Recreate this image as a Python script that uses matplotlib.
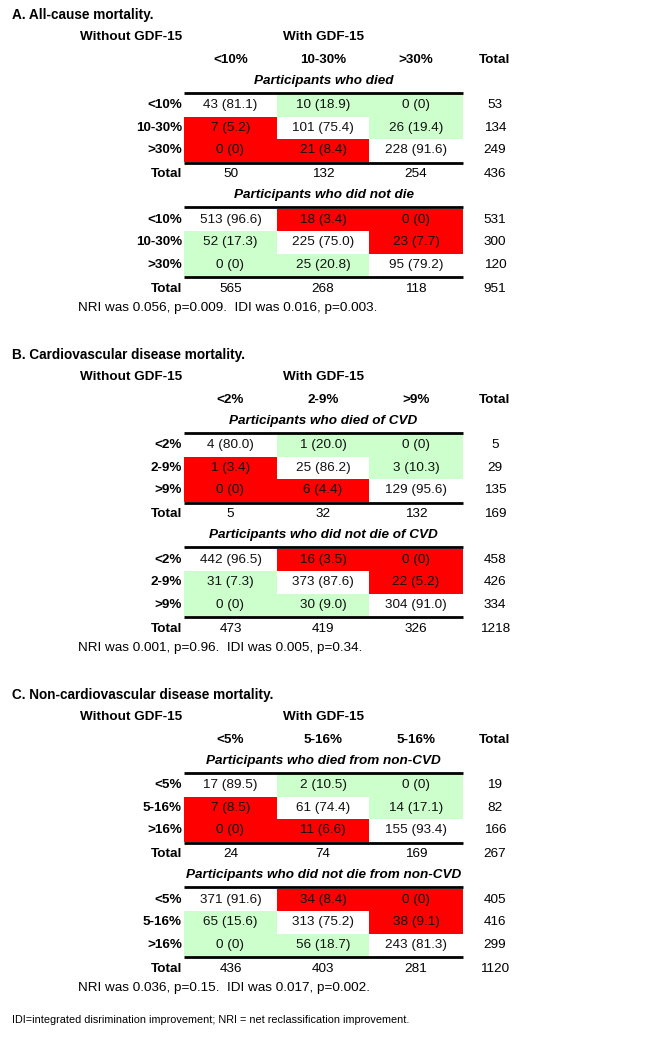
import matplotlib
matplotlib.use('Agg')
import matplotlib.pyplot as plt
from matplotlib.patches import Rectangle

plt.rcParams['font.family'] = ['Liberation Sans', 'DejaVu Sans']

# ---- data ----
titles = ['A. All-cause mortality.',
          'B. Cardiovascular disease mortality.',
          'C. Non-cardiovascular disease mortality.']
col_labels = [['<10%', '10-30%', '>30%'],
              ['<2%', '2-9%', '>9%'],
              ['<5%', '5-16%', '5-16%']]
row_labels = [['<10%', '10-30%', '>30%'],
              ['<2%', '2-9%', '>9%'],
              ['<5%', '5-16%', '>16%']]
sub_died = ['Participants who died',
            'Participants who died of CVD',
            'Participants who died from non-CVD']
sub_alive = ['Participants who did not die',
             'Participants who did not die of CVD',
             'Participants who did not die from non-CVD']

died_n = [[[43, 10, 0], [7, 101, 26], [0, 21, 228]],
          [[4, 1, 0], [1, 25, 3], [0, 6, 129]],
          [[17, 2, 0], [7, 61, 14], [0, 11, 155]]]
died_pct = [[[81.1, 18.9, 0], [5.2, 75.4, 19.4], [0, 8.4, 91.6]],
            [[80.0, 20.0, 0], [3.4, 86.2, 10.3], [0, 4.4, 95.6]],
            [[89.5, 10.5, 0], [8.5, 74.4, 17.1], [0, 6.6, 93.4]]]
alive_n = [[[513, 18, 0], [52, 225, 23], [0, 25, 95]],
           [[442, 16, 0], [31, 373, 22], [0, 30, 304]],
           [[371, 34, 0], [65, 313, 38], [0, 56, 243]]]
alive_pct = [[[96.6, 3.4, 0], [17.3, 75.0, 7.7], [0, 20.8, 79.2]],
             [[96.5, 3.5, 0], [7.3, 87.6, 5.2], [0, 9.0, 91.0]],
             [[91.6, 8.4, 0], [15.6, 75.2, 9.1], [0, 18.7, 81.3]]]

stats = ['NRI was 0.056, p=0.009.  IDI was 0.016, p=0.003.',
         'NRI was 0.001, p=0.96.  IDI was 0.005, p=0.34.',
         'NRI was 0.036, p=0.15.  IDI was 0.017, p=0.002.']
footnote = 'IDI=integrated disrimination improvement; NRI = net reclassification improvement.'

GREEN = '#ccffcc'
RED = '#ff0000'

# ---- layout (pixels) ----
fig = plt.figure(figsize=(6.59, 10.5), dpi=100)
ax = fig.add_axes([0, 0, 1, 1])
ax.set_xlim(0, 659)
ax.set_ylim(1050, 0)
ax.axis('off')

col_edges = [184, 277, 369, 463]
col_mid = [(col_edges[i] + col_edges[i + 1]) / 2 for i in range(3)]
x_center = (col_edges[0] + col_edges[-1]) / 2
x_total = 495
x_rowlab = 182
fs = 9.7
row_h = 22.5


def cell_text(n, p):
    return f'{n} (0)' if p == 0 else f'{n} ({p:.1f})'


def draw_block(top, counts, pcts, rows, died):
    # top = y of the thick rule above the 3x3 block
    ax.plot([col_edges[0], col_edges[-1]], [top, top], color='black', lw=2.0,
            solid_capstyle='butt')
    for i in range(3):
        y0 = top + 1.5 + i * row_h
        yc = y0 + row_h / 2
        for j in range(3):
            if i == j:
                fc = 'white'
            elif (j > i) == died:
                fc = GREEN
            else:
                fc = RED
            ax.add_patch(Rectangle((col_edges[j], y0), col_edges[j + 1] - col_edges[j],
                                   row_h, facecolor=fc, edgecolor='none'))
            ax.text(col_mid[j], yc, cell_text(counts[i][j], pcts[i][j]),
                    ha='center', va='center', fontsize=fs, color='#111111')
        ax.text(x_rowlab, yc, rows[i], ha='right', va='center', fontsize=fs,
                fontweight='bold')
        ax.text(x_total, yc, str(sum(counts[i])), ha='center', va='center', fontsize=fs)
    bot = top + 1.5 + 3 * row_h + 1
    ax.plot([col_edges[0], col_edges[-1]], [bot, bot], color='black', lw=2.0,
            solid_capstyle='butt')
    yt = bot + 11.5
    ax.text(x_rowlab, yt, 'Total', ha='right', va='center', fontsize=fs, fontweight='bold')
    for j in range(3):
        ax.text(col_mid[j], yt, str(sum(counts[i][j] for i in range(3))),
                ha='center', va='center', fontsize=fs)
    ax.text(x_total, yt, str(sum(sum(r) for r in counts)), ha='center', va='center',
            fontsize=fs)


for k in range(3):
    o = k * 340
    ax.text(12, o + 15, titles[k], ha='left', va='center', fontsize=fs + 0.1,
            fontweight='bold')
    ax.text(x_rowlab, o + 37, 'Without GDF-15', ha='right', va='center', fontsize=fs,
            fontweight='bold')
    ax.text(x_center, o + 37, 'With GDF-15', ha='center', va='center', fontsize=fs,
            fontweight='bold')
    for j in range(3):
        ax.text(col_mid[j], o + 60, col_labels[k][j], ha='center', va='center',
                fontsize=fs, fontweight='bold')
    ax.text(x_total, o + 60, 'Total', ha='center', va='center', fontsize=fs,
            fontweight='bold')
    ax.text(x_center, o + 81, sub_died[k], ha='center', va='center', fontsize=fs,
            fontweight='bold', style='italic')
    draw_block(o + 92.5, died_n[k], died_pct[k], row_labels[k], True)
    ax.text(x_center, o + 195, sub_alive[k], ha='center', va='center', fontsize=fs,
            fontweight='bold', style='italic')
    draw_block(o + 207, alive_n[k], alive_pct[k], row_labels[k], False)
    ax.text(78, o + 308, stats[k], ha='left', va='center', fontsize=fs)

ax.text(12, 1020, footnote, ha='left', va='center', fontsize=7.8)

fig.savefig('out.png', dpi=100)
